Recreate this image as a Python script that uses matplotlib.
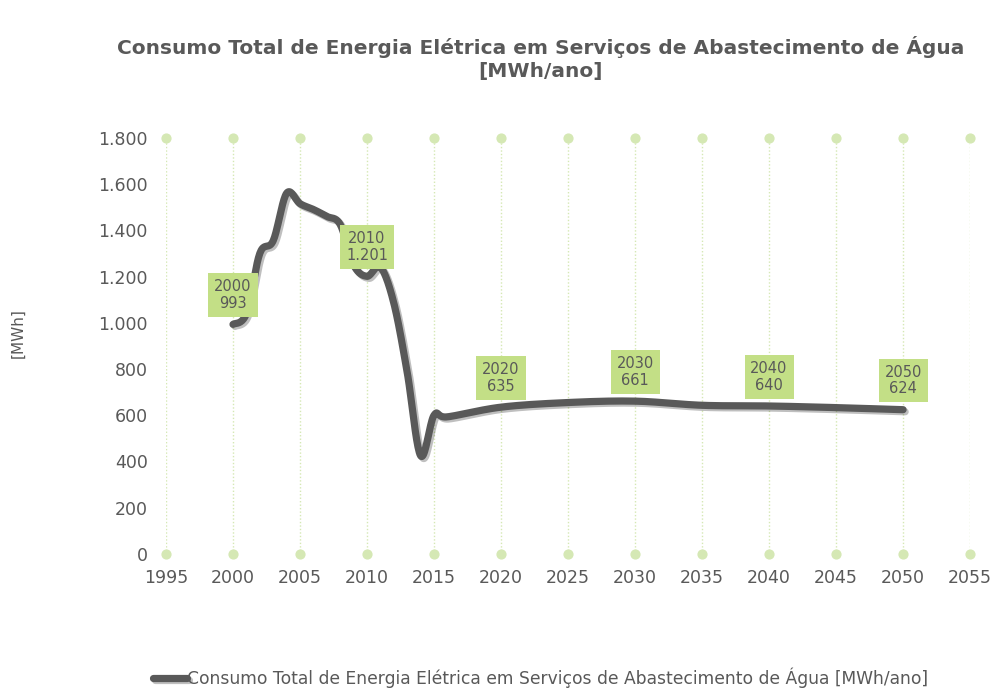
import numpy as np
import matplotlib.pyplot as plt
import matplotlib.patheffects as pe
from matplotlib.ticker import FuncFormatter

# Data
years = [2000, 2001, 2002, 2003, 2004, 2005, 2006, 2007, 2008, 2009, 2010,
         2011, 2012, 2013, 2014, 2015, 2016, 2020, 2025, 2030, 2035, 2040,
         2045, 2050]
consumo = [993, 1040, 1300, 1355, 1560, 1515, 1490, 1460, 1425, 1250, 1201,
           1240, 1085, 785, 425, 600, 593, 635, 655, 661, 643, 640, 633, 624]
label_years = [2000, 2010, 2020, 2030, 2040, 2050]
x_ticks = list(range(1995, 2060, 5))
y_ticks = list(range(0, 2000, 200))

titulo = "Consumo Total de Energia Elétrica em Serviços de Abastecimento de Água\n[MWh/ano]"
serie = "Consumo Total de Energia Elétrica em Serviços de Abastecimento de Água [MWh/ano]"

gray = "#595959"
green_box = "#c3df86"
green_grid = "#d5e8b4"

plt.rcParams['font.family'] = ['DejaVu Sans']


def smooth(x, y, n=20):
    # Excel-like smoothed line (Catmull-Rom style bezier through the points)
    x = np.asarray(x, float)
    y = np.asarray(y, float)
    xs, ys = [], []
    for i in range(len(x) - 1):
        p0 = (x[i - 1], y[i - 1]) if i > 0 else (x[i], y[i])
        p1 = (x[i], y[i])
        p2 = (x[i + 1], y[i + 1])
        p3 = (x[i + 2], y[i + 2]) if i + 2 < len(x) else (x[i + 1], y[i + 1])
        c1 = (p1[0] + (p2[0] - p0[0]) / 6, p1[1] + (p2[1] - p0[1]) / 6)
        c2 = (p2[0] - (p3[0] - p1[0]) / 6, p2[1] - (p3[1] - p1[1]) / 6)
        t = np.linspace(0, 1, n, endpoint=False)
        b0 = (1 - t) ** 3
        b1 = 3 * (1 - t) ** 2 * t
        b2 = 3 * (1 - t) * t ** 2
        b3 = t ** 3
        xs.extend(b0 * p1[0] + b1 * c1[0] + b2 * c2[0] + b3 * p2[0])
        ys.extend(b0 * p1[1] + b1 * c1[1] + b2 * c2[1] + b3 * p2[1])
    xs.append(x[-1])
    ys.append(y[-1])
    return np.array(xs), np.array(ys)


fig = plt.figure(figsize=(9.97, 6.89), dpi=100)
ax = fig.add_axes([0.1665, 0.196, 0.8065, 0.604])

# vertical dotted gridlines with round dots at the ends
for xt in x_ticks:
    ax.plot([xt, xt], [0, 1800], color=green_grid, lw=1, ls=(0, (1, 1.5)), zorder=1)
ax.scatter(x_ticks, [0] * len(x_ticks), s=40, color=green_grid, zorder=2, clip_on=False)
ax.scatter(x_ticks, [1800] * len(x_ticks), s=40, color=green_grid, zorder=2, clip_on=False)

sx, sy = smooth(years, consumo)
ax.plot(sx, sy, color=gray, lw=5.2, solid_capstyle='round', solid_joinstyle='round',
        zorder=3, label=serie,
        path_effects=[pe.SimpleLineShadow(offset=(1.5, -1.5), alpha=0.25, shadow_color='black'),
                      pe.Normal()])

for yr in label_years:
    v = consumo[years.index(yr)]
    ax.annotate(f"{yr}\n{v:,}".replace(",", "."), xy=(yr, v), xytext=(0, 21),
                textcoords='offset points', ha='center', va='center',
                fontsize=10.5, color=gray, linespacing=1.15, zorder=5,
                bbox=dict(boxstyle='square,pad=0.4', fc=green_box, ec='none'))

ax.set_xlim(1995, 2055)
ax.set_ylim(0, 1800)
ax.set_xticks(x_ticks)
ax.set_yticks(y_ticks)
ax.yaxis.set_major_formatter(FuncFormatter(lambda v, p: f"{int(v):,}".replace(",", ".")))
ax.tick_params(axis='both', length=0, labelsize=12.5, labelcolor=gray)
ax.tick_params(axis='y', pad=13)
ax.tick_params(axis='x', pad=11)
for s in ax.spines.values():
    s.set_visible(False)

ax.set_ylabel("[MWh]", fontsize=11, color=gray)
ax.yaxis.set_label_coords(-0.175, 0.53)

fig.text(0.542, 0.915, titulo, ha='center', va='center', fontsize=14.5,
         fontweight='bold', color=gray, linespacing=1.25)

fig.legend(loc='center', bbox_to_anchor=(0.542, 0.017), frameon=False,
           fontsize=12.3, labelcolor=gray, handlelength=2.0, handletextpad=0.0)

fig.savefig("out.png", dpi=100)
